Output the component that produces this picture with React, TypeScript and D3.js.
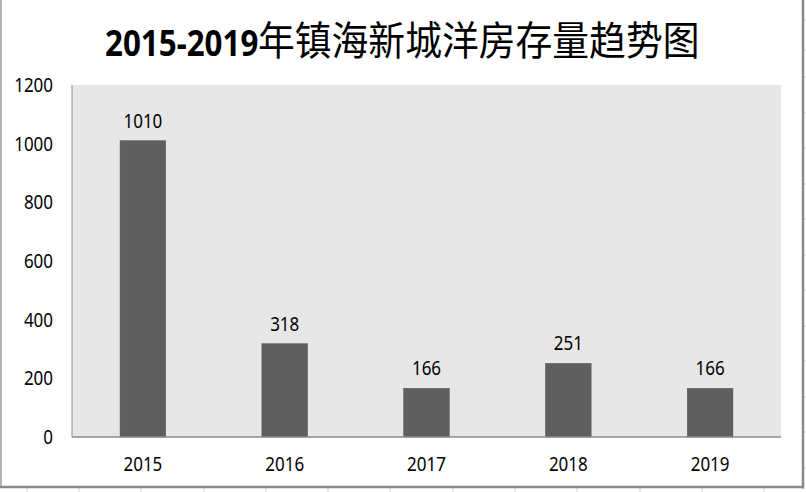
import React from "react";
import * as d3 from "d3";

const years = ["2015", "2016", "2017", "2018", "2019"];
const stock = [1010, 318, 166, 251, 166];
const yTicks = [0, 200, 400, 600, 800, 1000, 1200];
const titleNum = "2015-2019";
const titleText = "年镇海新城洋房存量趋势图";

const W = 806;
const H = 492;
const plot = { left: 72, right: 781, top: 85, bottom: 437 };
const FONT = "'Noto Sans', 'Open Sans', sans-serif";
const SX = 0.87;

function Label({ x, y, text, anchor }: { x: number; y: number; text: string; anchor: string }) {
  return (
    <g transform={`translate(${x},${y}) scale(${SX},1)`}>
      <text x={0} y={0} textAnchor={anchor} fontFamily={FONT} fontSize={19.5} fill="#000">
        {text}
      </text>
    </g>
  );
}

export default function App() {
  const x = d3.scaleBand<string>().domain(years).range([plot.left, plot.right]).padding(0);
  const y = d3.scaleLinear().domain([0, 1200]).range([plot.bottom, plot.top]);
  const barW = x.bandwidth() * 0.322;

  const cellXs = [27, 79, 141, 204, 266, 328, 390, 453, 515, 577, 640, 702, 764];
  const cellYs = [20, 50, 77, 113, 148, 184, 219, 255, 290, 326, 361, 397, 432, 468];

  return (
    <svg
      width={W}
      height={H}
      style={{ position: "absolute", left: 0, top: 0, background: "#fff" }}
    >
      {/* spreadsheet cell lines outside frame */}
      {cellXs.map((cx) => (
        <line key={"cx" + cx} x1={cx} x2={cx} y1={488} y2={H} stroke="#d4d4d4" strokeWidth={1} />
      ))}
      {cellYs.map((cy) => (
        <line key={"cy" + cy} x1={804} x2={W} y1={cy} y2={cy} stroke="#d4d4d4" strokeWidth={1} />
      ))}

      {/* frame */}
      <line x1={1} x2={1} y1={0} y2={488} stroke="#9a9a9a" strokeWidth={1.5} />
      <line x1={803} x2={803} y1={0} y2={488.5} stroke="#8a8a8a" strokeWidth={2.5} />
      <line x1={0} x2={804} y1={487} y2={487} stroke="#8a8a8a" strokeWidth={2.5} />

      {/* title */}
      <g transform={`translate(105,56) scale(${SX},1)`}>
        <text x={0} y={0} fontFamily={FONT} fontWeight="bold" fontSize={36} fill="#000">
          {titleNum}
        </text>
      </g>
      <g transform={`translate(258,55) scale(0.92,1)`}>
        <text x={0} y={0} fontFamily="'Noto Sans CJK SC', sans-serif" fontWeight="normal" fontSize={40} fill="#000">
          {titleText}
        </text>
      </g>

      {/* plot area */}
      <rect
        x={plot.left}
        y={plot.top}
        width={plot.right - plot.left}
        height={plot.bottom - plot.top}
        fill="#e7e7e7"
      />

      {/* bars */}
      {years.map((yr, i) => {
        const cx = (x(yr) as number) + x.bandwidth() / 2;
        return (
          <rect
            key={yr}
            x={cx - barW / 2}
            y={y(stock[i])}
            width={barW}
            height={y(0) - y(stock[i])}
            fill="#5f5f5f"
            stroke="#555"
            strokeWidth={0.5}
          />
        );
      })}

      {/* axes */}
      <line x1={plot.left} x2={plot.left} y1={plot.top} y2={plot.bottom} stroke="#8c8c8c" strokeWidth={1} />
      <line x1={plot.left} x2={plot.right} y1={plot.bottom} y2={plot.bottom} stroke="#8c8c8c" strokeWidth={1.5} />

      {/* y tick labels */}
      {yTicks.map((t) => (
        <Label key={"yt" + t} x={53} y={y(t) + 7} text={String(t)} anchor="end" />
      ))}

      {/* x labels */}
      {years.map((yr) => (
        <Label
          key={"xl" + yr}
          x={(x(yr) as number) + x.bandwidth() / 2}
          y={470.5}
          text={yr}
          anchor="middle"
        />
      ))}

      {/* data labels */}
      {years.map((yr, i) => (
        <Label
          key={"dl" + yr}
          x={(x(yr) as number) + x.bandwidth() / 2}
          y={y(stock[i]) - 13}
          text={String(stock[i])}
          anchor="middle"
        />
      ))}
    </svg>
  );
}
